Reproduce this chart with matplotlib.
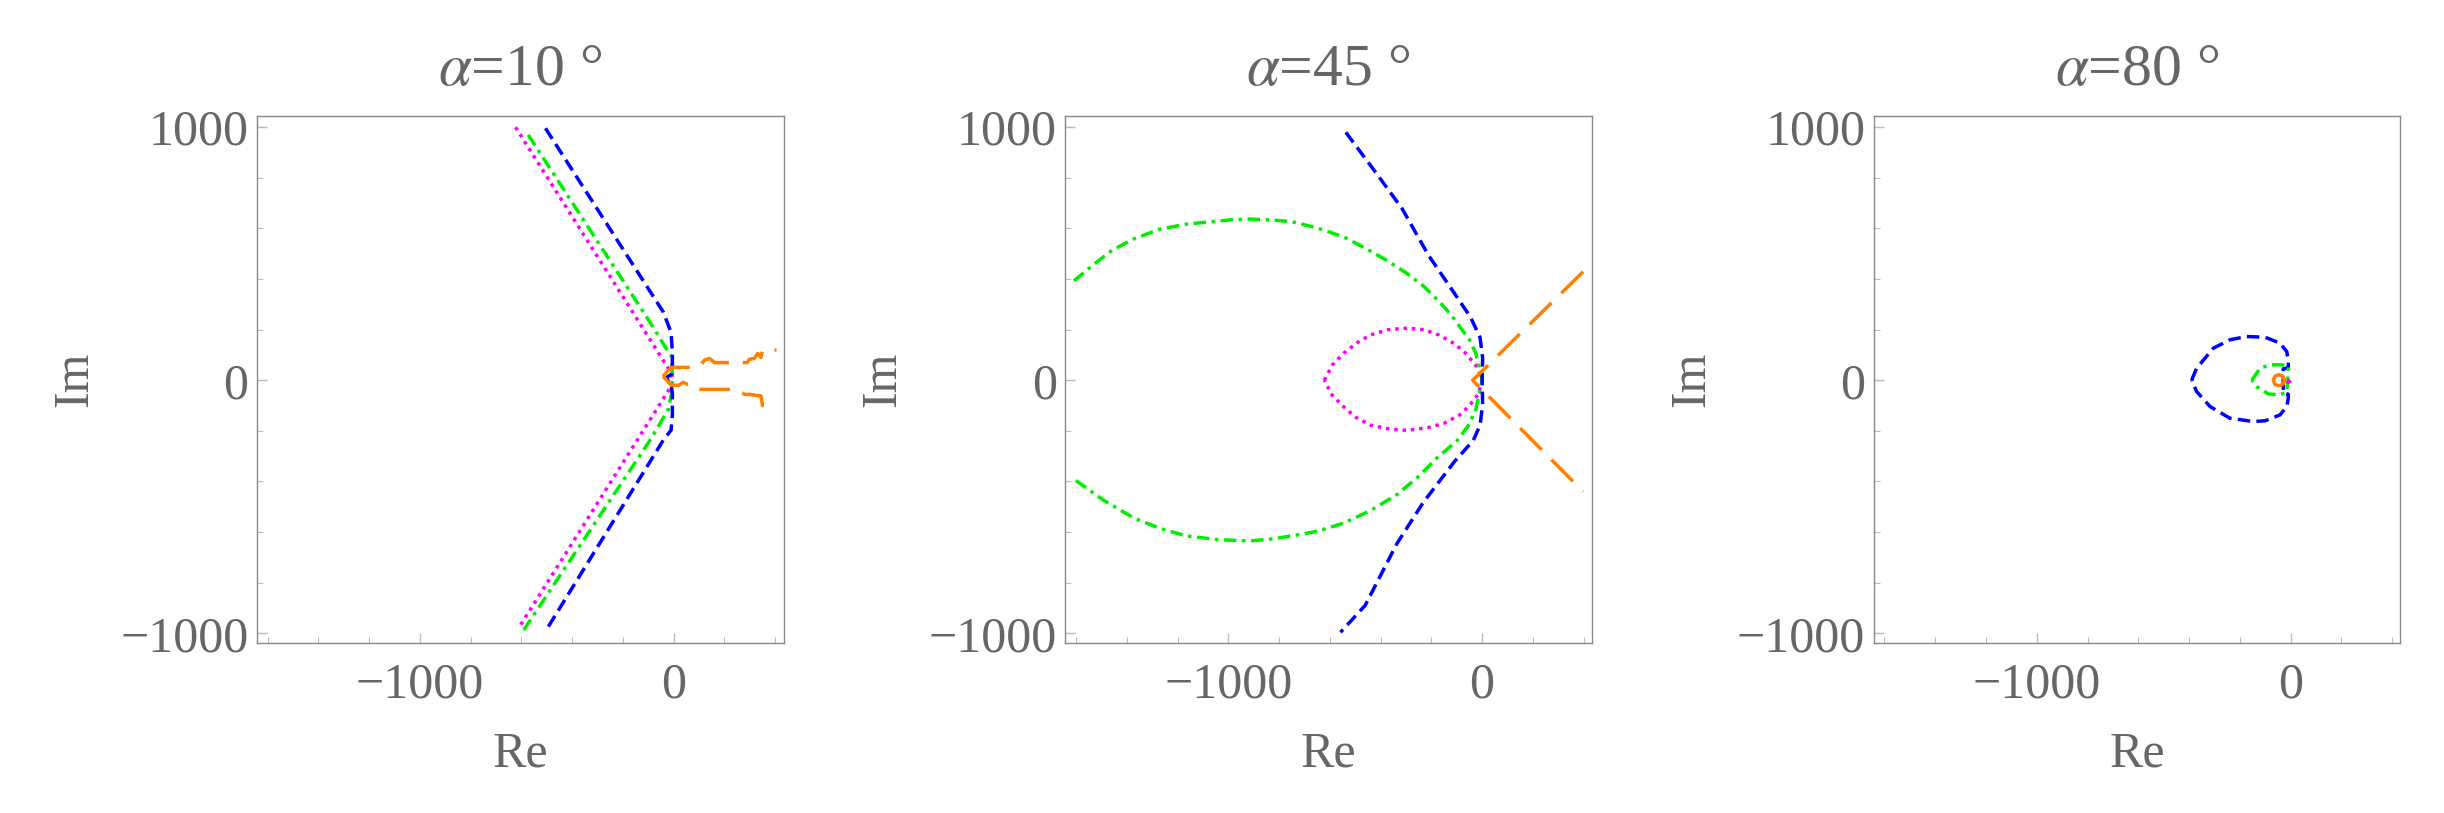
import matplotlib
matplotlib.use("Agg")
import matplotlib.pyplot as plt
from matplotlib.ticker import MultipleLocator, FixedLocator

plt.rcParams['font.family'] = ['Liberation Serif', 'DejaVu Serif']
plt.rcParams['mathtext.fontset'] = 'stix'
plt.rcParams['lines.scale_dashes'] = False

TEXT = '#666666'

# --- alpha = 10 deg ---
a10_blue_re = [-505, -41, -10, -5, -5, -30, -10, -5, -5, -10, -41, -505]
a10_blue_im = [996, 270, 189, 108, 26, 10, -15, -55, -136, -197, -237, -992]
a10_green_re = [-573, -93, -31, -8, -5, -8, -21, -93, -594]
a10_green_im = [970, 229, 128, 95, 0, -50, -116, -237, -992]
a10_mag_re = [-623, -21, 0, -20, -608]
a10_mag_im = [1000, 47, 0, -40, -975]
a10_orange_up_re = [-42, -9, 100, 122, 141, 161, 290, 298, 318, 331, 344, 350, 405]
a10_orange_up_im = [16, 51, 51, 80, 86, 70, 70, 83, 86, 106, 90, 120, 120]
a10_orange_lo_re = [-42, -9, 20, 37, 55, 76, 89, 259, 279, 300, 344, 350, 405]
a10_orange_lo_im = [16, -20, -20, -8, -16, -16, -36, -36, -56, -56, -62, -100, -100]

# --- alpha = 45 deg ---
a45_blue_re = [-537, -419, -315, -212, -129, -46, -8, 2, 0, 2, -8, -35, -108, -232, -336, -461, -558]
a45_blue_im = [980, 821, 678, 495, 373, 250, 169, 88, 0, -96, -177, -238, -320, -483, -646, -890, -996]
a45_green_re = [-1608, -1530, -1456, -1370, -1270, -1165, -1062, -990, -917, -835, -751, -650, -544,
                -460, -378, -300, -232, -170, -125, -87, -50, -25, 0,
                -25, -55, -98, -140, -170, -250, -336, -440, -544, -650, -751, -835, -917,
                -1040, -1166, -1270, -1373, -1490, -1608]
a45_green_im = [393, 458, 515, 560, 597, 617, 627, 634, 637, 634, 627, 602, 566,
                522, 475, 425, 373, 312, 262, 210, 160, 108, 0,
                -116, -180, -238, -275, -299, -380, -452, -515, -564, -597, -615, -628, -635,
                -630, -615, -585, -544, -475, -391]
a45_mag_re = [-622, -590, -544, -490, -440, -370, -295, -230, -170, -110, -66, -15, 0,
              -15, -50, -87, -150, -212, -295, -370, -440, -500, -544, -590, -622]
a45_mag_im = [0, 60, 108, 150, 179, 200, 206, 200, 179, 145, 108, 47, 0,
              -55, -100, -136, -170, -187, -198, -192, -177, -145, -106, -60, 0]
a45_orange_re = [398, -37, 398]
a45_orange_im = [429, 0, -440]

# --- alpha = 80 deg ---
a80_blue_re = [-390, -370, -304, -239, -173, -100, -42, -15, -9, -9, -29, -29, -9, -9, -15, -42,
               -100, -147, -239, -317, -370, -390]
a80_blue_im = [0, 48, 127, 160, 173, 170, 147, 113, 74, 50, 45, -50, -55, -71, -104, -137,
               -160, -163, -150, -104, -45, 0]
a80_green_re = [-153, -120, -81, -35, -9, -9, -15, -42, -88, -134, -153]
a80_green_im = [0, 48, 61, 61, 57, 30, -45, -58, -54, -25, 0]
a80_orange_re = [-24, -30, -46, -62, -68, -62, -46, -30, -24]
a80_orange_im = [0, 16, 22, 16, 0, -16, -22, -16, 0]
a80_mag_re = [-4, -8, -14, -10, -4]
a80_mag_im = [-5, 0, -5, -10, -5]

titles = [r'$\alpha$=10 °', r'$\alpha$=45 °', r'$\alpha$=80 °']
x_ticks = [-1000, 0]
y_ticks = [-1000, 0, 1000]

LW = 2.5
BLUE = dict(color='#0000ff', lw=LW, ls=(0, (9, 4.5)))
GREEN = dict(color='#00ee00', lw=LW, ls=(0, (9, 4, 2.5, 4)))
MAG = dict(color='#ff00ff', lw=LW, ls=(0, (2.5, 3.5)))
ORANGE = dict(color='#ff7f00', lw=LW, ls=(0, (22, 10)))

fig = plt.figure(figsize=(24.44, 8.13), dpi=100)
lefts = [0.105, 0.4358, 0.7666]
axes = [fig.add_axes([l, 0.2095, 0.2156, 0.648]) for l in lefts]

ax = axes[0]
ax.plot(a10_mag_re, a10_mag_im, **MAG)
ax.plot(a10_green_re, a10_green_im, **GREEN)
ax.plot(a10_blue_re, a10_blue_im, **BLUE)
ax.plot(a10_orange_up_re, a10_orange_up_im, **ORANGE)
ax.plot(a10_orange_lo_re, a10_orange_lo_im, **ORANGE)

ax = axes[1]
ax.plot(a45_mag_re, a45_mag_im, **MAG)
ax.plot(a45_green_re, a45_green_im, **GREEN)
ax.plot(a45_blue_re, a45_blue_im, **BLUE)
ax.plot(a45_orange_re, a45_orange_im, **ORANGE)

ax = axes[2]
ax.plot(a80_blue_re, a80_blue_im, **BLUE)
ax.plot(a80_green_re, a80_green_im, **GREEN)
ax.plot(a80_mag_re, a80_mag_im, color='#ff00ff', lw=2)
ax.plot(a80_orange_re, a80_orange_im, color='#ff7f00', lw=LW)

for ax, t in zip(axes, titles):
    ax.set_xlim(-1643, 433)
    ax.set_ylim(-1037, 1045)
    ax.xaxis.set_major_locator(FixedLocator(x_ticks))
    ax.yaxis.set_major_locator(FixedLocator(y_ticks))
    ax.xaxis.set_minor_locator(MultipleLocator(200))
    ax.yaxis.set_minor_locator(MultipleLocator(200))
    ax.tick_params(which='both', direction='in', color='#bbbbbb', labelcolor=TEXT,
                   labelsize=36)
    ax.tick_params(axis='x', which='major', length=7, width=1, pad=14)
    ax.tick_params(axis='y', which='major', length=7, width=1, pad=6)
    ax.tick_params(which='minor', length=4, width=0.8)
    for s in ax.spines.values():
        s.set_color('#888888')
        s.set_linewidth(1)
    ax.set_title(t, fontsize=43, color=TEXT, pad=22)
    ax.set_xlabel('Re', fontsize=36, color=TEXT, labelpad=16)
    ax.set_ylabel('Im', fontsize=36, color=TEXT, labelpad=16)

fig.savefig('out.png', dpi=100, facecolor='white')
